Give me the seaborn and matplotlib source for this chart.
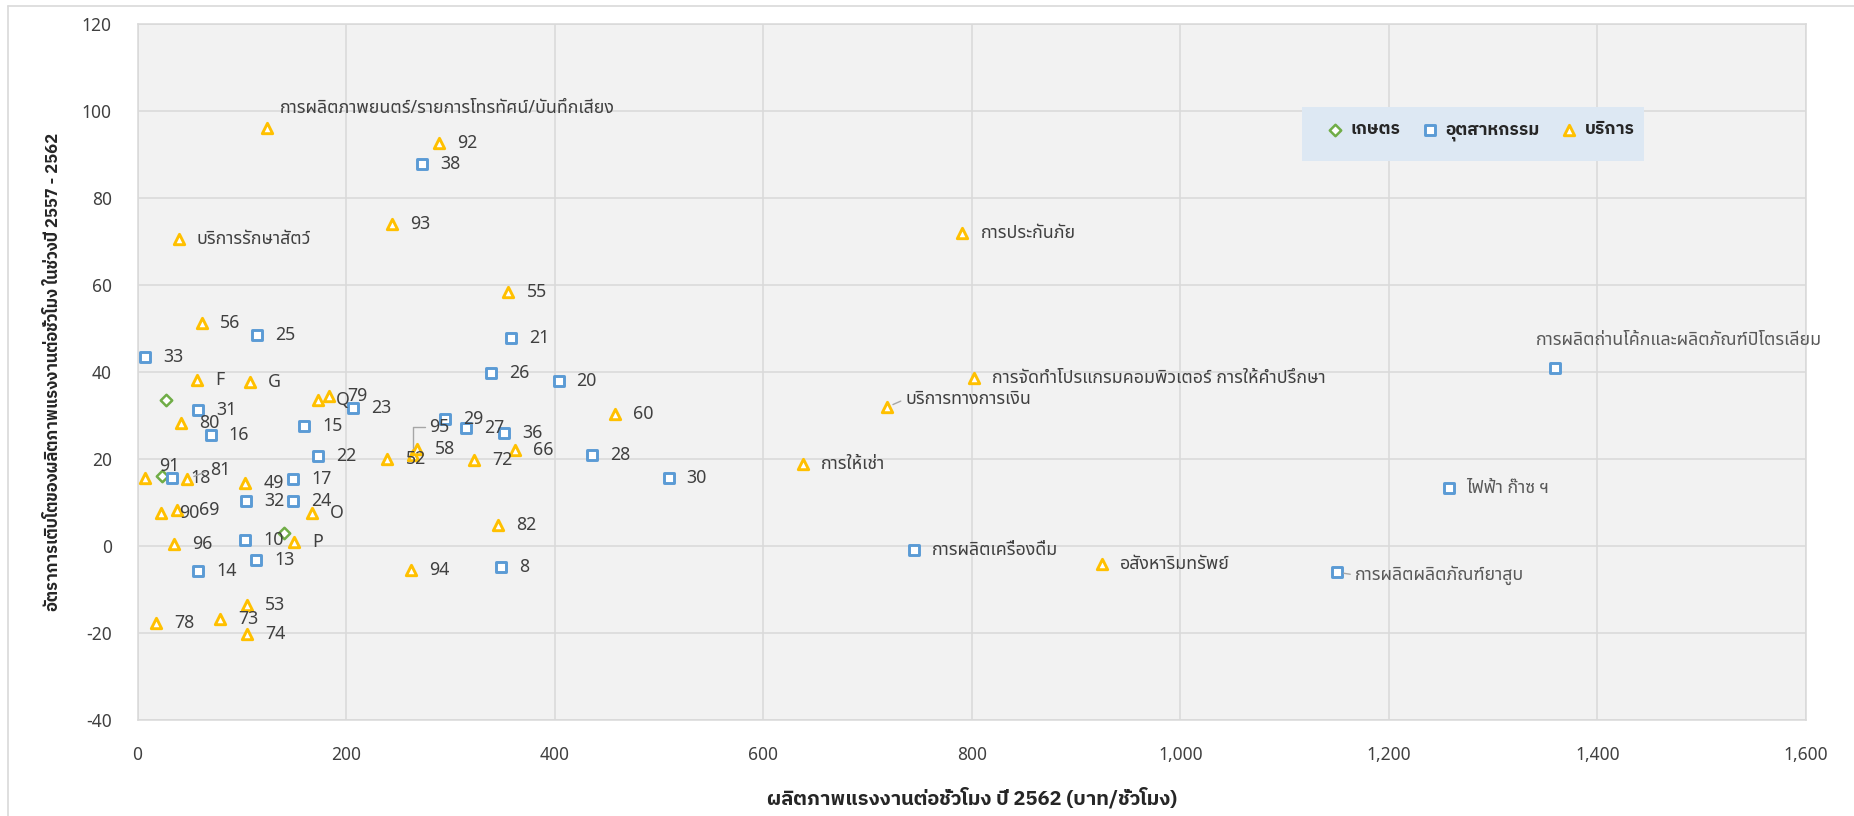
import matplotlib
matplotlib.use("Agg")
import matplotlib.pyplot as plt
import pandas as pd
import seaborn as sns
from matplotlib.ticker import FuncFormatter, MultipleLocator
from matplotlib.lines import Line2D
from matplotlib.patches import Rectangle

# ---- data: labour productivity 2019 (x) vs. growth 2014-2019 (y) ----
agri_labels = ["", "", ""]
agri_x = [27.0, 23.8, 140.5]
agri_y = [33.6, 16.1, 2.9]

ind_labels = ["38", "25", "21", "33", "26", "20", "31", "16", "15", "23", "22",
              "29", "27", "36", "28", "30", "18", "17", "32", "24", "10", "13",
              "14", "8", "การผลิตเครื่องดื่ม",
              "การผลิตถ่านโค้กและผลิตภัณฑ์ปิโตรเลียม", "ไฟฟ้า ก๊าซ ฯ",
              "การผลิตผลิตภัณฑ์ยาสูบ"]
ind_x = [273.1, 114.6, 358.0, 7.3, 338.7, 403.7, 58.0, 70.2, 160.0, 206.4, 172.8,
         294.6, 315.3, 351.8, 435.8, 509.3, 33.4, 149.1, 104.0, 148.8, 103.1, 113.6,
         58.0, 348.6, 744.2, 1359.6, 1257.2, 1150.1]
ind_y = [87.9, 48.5, 47.9, 43.5, 39.9, 38.0, 31.4, 25.5, 27.6, 31.8, 20.7,
         29.2, 27.2, 26.1, 21.0, 15.7, 15.7, 15.5, 10.4, 10.4, 1.3, -3.2,
         -5.7, -4.7, -1.0, 40.9, 13.4, -6.0]

svc_labels = ["การผลิตภาพยนตร์/รายการโทรทัศน์/บันทึกเสียง", "92", "93",
              "บริการรักษาสัตว์", "55", "56", "F", "G", "Q", "79", "80", "60",
              "52", "95", "58", "72", "66", "91", "81", "49", "O", "90", "69",
              "96", "P", "82", "94", "53", "78", "73", "74", "การประกันภัย",
              "การจัดทำโปรแกรมคอมพิวเตอร์ การให้คำปรึกษา", "บริการทางการเงิน",
              "การให้เช่า", "อสังหาริมทรัพย์"]
svc_x = [124.1, 289.4, 244.3, 39.5, 355.7, 61.5, 57.2, 107.8, 173.1, 184.0, 41.7,
         457.9, 239.6, 264.5, 268.0, 323.0, 362.0, 7.5, 47.8, 103.4, 167.0, 22.5,
         37.6, 35.0, 150.4, 346.0, 262.6, 104.7, 18.0, 79.1, 105.0, 791.0, 802.1,
         718.3, 638.1, 924.5]
svc_y = [96.2, 92.8, 74.0, 70.6, 58.4, 51.2, 38.1, 37.7, 33.5, 34.6, 28.3,
         30.3, 20.0, 20.9, 22.3, 19.8, 22.0, 15.7, 15.4, 14.6, 7.7, 7.5,
         8.3, 0.4, 0.9, 4.9, -5.5, -13.5, -17.6, -16.8, -20.2, 72.1, 38.7,
         31.9, 18.8, -4.0]

sectors = ["เกษตร", "อุตสาหกรรม", "บริการ"]

x_title = "ผลิตภาพแรงงานต่อชั่วโมง ปี 2562 (บาท/ชั่วโมง)"
y_title = "อัตราการเติบโตของผลิตภาพแรงงานต่อชั่วโมง ในช่วงปี 2557 - 2562"

df = pd.concat([
    pd.DataFrame({"x": agri_x, "y": agri_y, "label": agri_labels, "sector": sectors[0]}),
    pd.DataFrame({"x": ind_x, "y": ind_y, "label": ind_labels, "sector": sectors[1]}),
    pd.DataFrame({"x": svc_x, "y": svc_y, "label": svc_labels, "sector": sectors[2]}),
], ignore_index=True)

# ---- styling ----
sns.set_style("white")
plt.rcParams["font.family"] = ["Noto Sans", "Noto Sans Thai"]
plt.rcParams["axes.unicode_minus"] = False
bold_family = ["IBM Plex Sans Thai", "Noto Sans"]

colors = {"เกษตร": "#70ad47", "อุตสาหกรรม": "#5b9bd5", "บริการ": "#ffc000"}
marks = {"เกษตร": "D", "อุตสาหกรรม": "s", "บริการ": "^"}
msize = {"เกษตร": 34, "อุตสาหกรรม": 52, "บริการ": 56}
mlw = {"เกษตร": 1.8, "อุตสาหกรรม": 2.1, "บริการ": 2.1}

label_color = "#404040"
light_label = "#595959"

fig = plt.figure(figsize=(18.54, 8.16), dpi=100)
ax = fig.add_axes([0.0742, 0.1176, 0.8999, 0.8526])
ax.set_facecolor("#f2f2f2")

for sec in sectors:
    sub = df[df["sector"] == sec]
    sns.scatterplot(data=sub, x="x", y="y", ax=ax, marker=marks[sec], s=msize[sec],
                    color="white", edgecolor=colors[sec], linewidth=mlw[sec],
                    label=sec, zorder=4)

ax.set_xlim(0, 1600)
ax.set_ylim(-40, 120)
ax.xaxis.set_major_locator(MultipleLocator(200))
ax.yaxis.set_major_locator(MultipleLocator(20))
ax.xaxis.set_major_formatter(FuncFormatter(lambda v, p: f"{v:,.0f}"))
ax.grid(True, color="#d9d9d9", lw=1.1)
ax.set_axisbelow(True)
for sp in ax.spines.values():
    sp.set_color("#d9d9d9")
    sp.set_linewidth(1.1)
ax.tick_params(length=0, pad=18.5, labelsize=12.5, colors="#404040")

ax.set_xlabel(x_title, fontsize=14.5, fontweight="bold", family=bold_family,
              color="#262626", labelpad=17)
ax.set_ylabel("")
fig.text(53 / 1854, 1 - 372 / 816, y_title, rotation=90, ha="center", va="center",
         fontsize=12, fontweight="bold", family=bold_family, color="#262626")

# data labels: default is right of the marker, a few are moved
label_offsets = {
    "การผลิตภาพยนตร์/รายการโทรทัศน์/บันทึกเสียง": (9, 14),
    "การผลิตถ่านโค้กและผลิตภัณฑ์ปิโตรเลียม": (-14, 20),
    "บริการทางการเงิน": (13.5, 6),
    "การผลิตผลิตภัณฑ์ยาสูบ": (13, -2),
    "95": (11.5, 20),
    "81": (16, 6.5),
    "91": (10, 8.5),
    "69": (16, 0),
}
leaders = {
    "บริการทางการเงิน": "arc3",
    "การผลิตผลิตภัณฑ์ยาสูบ": "arc3",
    "95": "angle,angleA=0,angleB=90,rad=0",
    "81": "arc3",
}
light = {"การผลิตถ่านโค้กและผลิตภัณฑ์ปิโตรเลียม", "ไฟฟ้า ก๊าซ ฯ",
         "การผลิตผลิตภัณฑ์ยาสูบ"}

for _, r in df.iterrows():
    if not r["label"]:
        continue
    dx, dy = label_offsets.get(r["label"], (13, 0))
    kw = {}
    if r["label"] in leaders:
        kw["arrowprops"] = dict(arrowstyle="-", color="#a6a6a6", lw=1.0,
                                shrinkA=1, shrinkB=5, relpos=(0, 0.5),
                                connectionstyle=leaders[r["label"]])
    ax.annotate(r["label"], (r["x"], r["y"]), xytext=(dx, dy),
                textcoords="offset points", ha="left", va="center", fontsize=12.8,
                color=light_label if r["label"] in light else label_color,
                zorder=5, **kw)

# legend on a light blue panel
ax.add_patch(Rectangle((0.6979, 0.8035), 0.2050, 0.0776, transform=ax.transAxes,
                       facecolor="#dde8f3", edgecolor="none", zorder=3))
handles, labels = ax.get_legend_handles_labels()
leg = ax.legend(handles, labels, loc="center", bbox_to_anchor=(0.805, 0.8457),
                ncol=3, frameon=False, handlelength=1.0, handletextpad=0.4,
                columnspacing=1.2,
                prop={"size": 12.5, "weight": "bold", "family": bold_family})
for t in leg.get_texts():
    t.set_color("#262626")
leg.set_zorder(6)

# chart area border
fig.add_artist(Line2D([8 / 1854, 1], [1 - 6 / 816] * 2, color="#d9d9d9", lw=1.2,
                      transform=fig.transFigure))
fig.add_artist(Line2D([8 / 1854] * 2, [0, 1 - 6 / 816], color="#d9d9d9", lw=1.2,
                      transform=fig.transFigure))

fig.savefig("out.png", dpi=100, facecolor="white")
